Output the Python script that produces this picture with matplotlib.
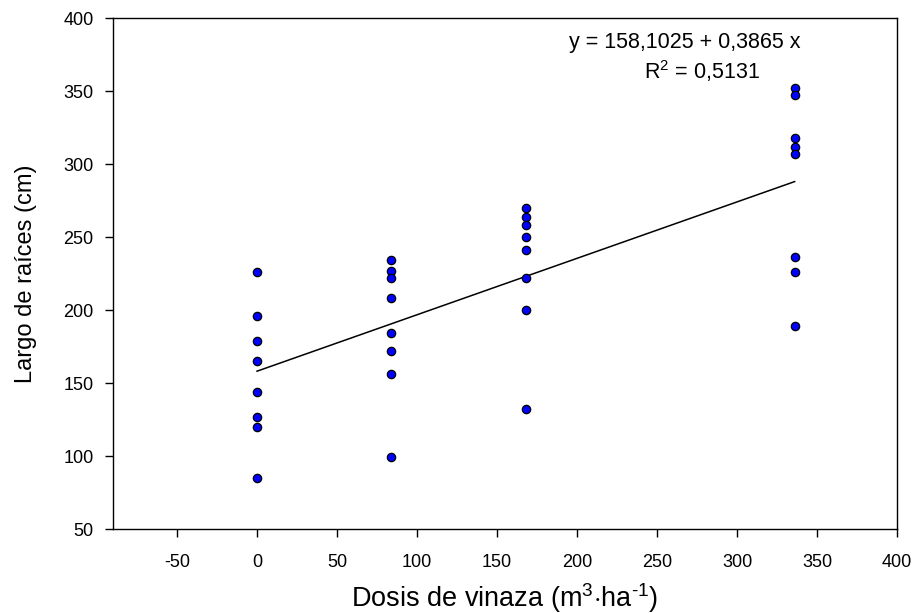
import numpy as np
import matplotlib
matplotlib.use('Agg')
import matplotlib.pyplot as plt

plt.rcParams['font.family'] = ['Liberation Sans', 'DejaVu Sans']
plt.rcParams['mathtext.fontset'] = 'custom'
plt.rcParams['mathtext.rm'] = 'Liberation Sans'
plt.rcParams['mathtext.it'] = 'Liberation Sans:italic'
plt.rcParams['axes.unicode_minus'] = False

## Data
dosis_0 = [0, 0, 0, 0, 0, 0, 0, 0]
largo_0 = [226, 196, 179, 165, 144, 127, 120, 85]
dosis_84 = [84, 84, 84, 84, 84, 84, 84, 84]
largo_84 = [234, 227, 222, 208, 184, 172, 156, 99]
dosis_168 = [168, 168, 168, 168, 168, 168, 168, 168]
largo_168 = [270, 264, 258, 250, 241, 222, 200, 132]
dosis_336 = [336, 336, 336, 336, 336, 336, 336, 336]
largo_336 = [352, 347, 318, 312, 307, 236, 226, 189]

## Regression (from the equation shown)
b0 = 158.1025
b1 = 0.3865
r2 = 0.5131

x = np.array(dosis_0 + dosis_84 + dosis_168 + dosis_336)
y = np.array(largo_0 + largo_84 + largo_168 + largo_336)

xline = np.array([x.min(), x.max()])
yline = b0 + b1 * xline

fig = plt.figure(figsize=(9.21, 6.13), dpi=100)
ax = fig.add_axes([0.1227, 0.137, 0.8513, 0.8336])

ax.plot(xline, yline, 'k-', lw=1.1, zorder=2)
ax.plot(x, y, 'o', ms=6, mfc='#0000ff', mec='black', mew=0.9, zorder=3)

ax.set_xlim(-90, 400)
ax.set_ylim(50, 400)
ax.set_xticks([-50, 0, 50, 100, 150, 200, 250, 300, 350, 400])
ax.set_yticks([50, 100, 150, 200, 250, 300, 350, 400])
ax.tick_params(direction='out', length=6, width=1, labelsize=13)
ax.tick_params(axis='x', pad=12)
ax.tick_params(axis='y', pad=8)
for s in ax.spines.values():
    s.set_linewidth(1.0)

ax.set_xlabel(r'Dosis de vinaza (m$^{3}$$\cdot$ha$^{\text{-1}}$)', fontsize=19.5, labelpad=7)
ax.set_ylabel('Largo de raíces (cm)', fontsize=17, labelpad=19)

ax.text(339.4, 383, 'y = 158,1025 + 0,3865 x', ha='right', va='center', fontsize=15.5)
ax.text(314.4, 364, r'R$^{2}$ = 0,5131', ha='right', va='center', fontsize=15.5)

fig.savefig('out.png', dpi=100)
